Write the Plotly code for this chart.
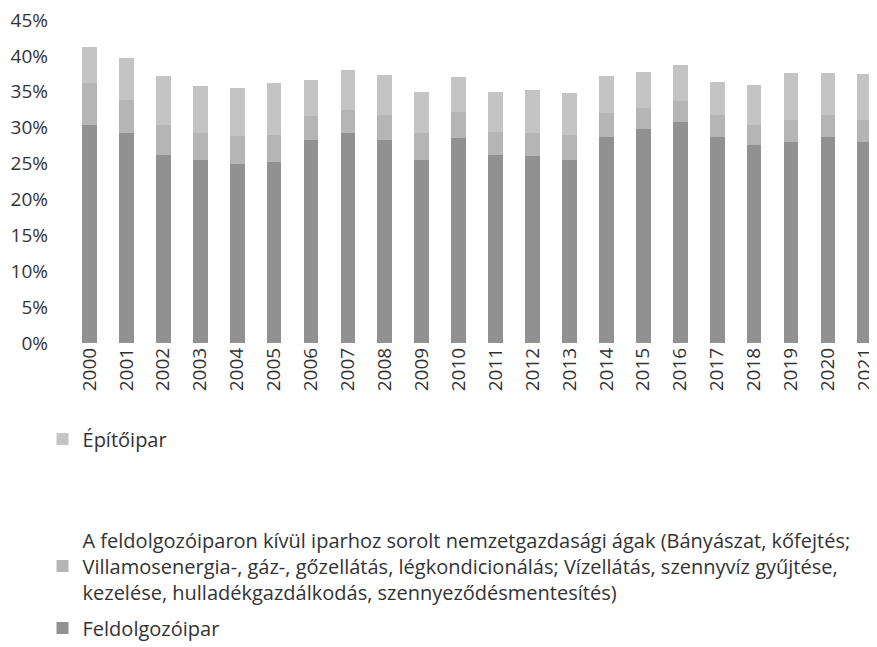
import plotly.graph_objects as go

years = [str(y) for y in range(2000, 2022)]

# shares (%)
feldolgozoipar = [30.4, 29.2, 26.2, 25.5, 25.0, 25.2, 28.3, 29.2, 28.3, 25.5, 28.5,
                  26.2, 26.0, 25.5, 28.7, 29.8, 30.8, 28.7, 27.6, 28.0, 28.7, 28.0]
egyeb_ipar = [5.8, 4.6, 4.2, 3.7, 3.8, 3.8, 3.3, 3.2, 3.5, 3.7, 3.7,
              3.2, 3.2, 3.5, 3.3, 3.0, 2.9, 3.1, 2.8, 3.0, 3.0, 3.0]
epitoipar = [5.0, 5.9, 6.8, 6.6, 6.7, 7.2, 5.0, 5.6, 5.5, 5.8, 4.8,
             5.6, 6.0, 5.8, 5.2, 4.9, 5.0, 4.5, 5.5, 6.6, 5.9, 6.5]

y_ticks = [0, 0.05, 0.10, 0.15, 0.20, 0.25, 0.30, 0.35, 0.40, 0.45]
y_tick_labels = ["0%", "5%", "10%", "15%", "20%", "25%", "30%", "35%", "40%", "45%"]

name_f = "Feldolgozóipar"
name_m = ("A feldolgozóiparon kívül iparhoz sorolt nemzetgazdasági ágak (Bányászat, kőfejtés;<br>"
          "Villamosenergia-, gáz-, gőzellátás, légkondicionálás; Vízellátás, szennyvíz gyűjtése,<br>"
          "kezelése, hulladékgazdálkodás, szennyeződésmentesítés)")
name_e = "Építőipar"

FONT = "'Open Sans', Lato, sans-serif"
TXT = "#333333"

fig = go.Figure()
fig.add_bar(x=years, y=[v / 100 for v in feldolgozoipar], name=name_f,
            marker=dict(color="#919191", line=dict(width=0)), legend="legend3")
fig.add_bar(x=years, y=[v / 100 for v in egyeb_ipar], name=name_m,
            marker=dict(color="#b5b5b5", line=dict(width=0)), legend="legend2")
fig.add_bar(x=years, y=[v / 100 for v in epitoipar], name=name_e,
            marker=dict(color="#c4c4c4", line=dict(width=0)), legend="legend")

# the page body adds an 8px offset, so the figure is 8px smaller than the window
W, H = 869, 639
L, R, T, B = 62.5, 0, 12, 304
pw, ph = W - L - R, H - T - B


def px_x(x):
    return (x - L) / pw


def px_y(y):
    return (H - B - y) / ph


leg_common = dict(font=dict(family=FONT, size=20, color=TXT), bgcolor="rgba(0,0,0,0)",
                  xanchor="left", yanchor="middle", itemwidth=30)

fig.update_layout(
    width=W, height=H,
    margin=dict(l=L, r=R, t=T, b=B, autoexpand=False),
    plot_bgcolor="white", paper_bgcolor="white",
    barmode="stack", bargap=0.6,
    showlegend=True,
    legend=dict(x=px_x(34), y=px_y(431), **leg_common),
    legend2=dict(x=px_x(34), y=px_y(558), **leg_common),
    legend3=dict(x=px_x(34), y=px_y(620), **leg_common),
    xaxis=dict(range=[-0.5, 21.33], tickangle=-90, showgrid=False, showline=False,
               ticks="", ticklabeloverflow="allow",
               tickfont=dict(family=FONT, size=19, color=TXT)),
    yaxis=dict(range=[0, 0.45], tickvals=y_ticks, ticktext=y_tick_labels, showgrid=False,
               zeroline=False, showline=False, ticks="", ticklabeloverflow="allow",
               tickfont=dict(family=FONT, size=19, color=TXT), ticklabelstandoff=22),
)

fig.write_html("out.html")
